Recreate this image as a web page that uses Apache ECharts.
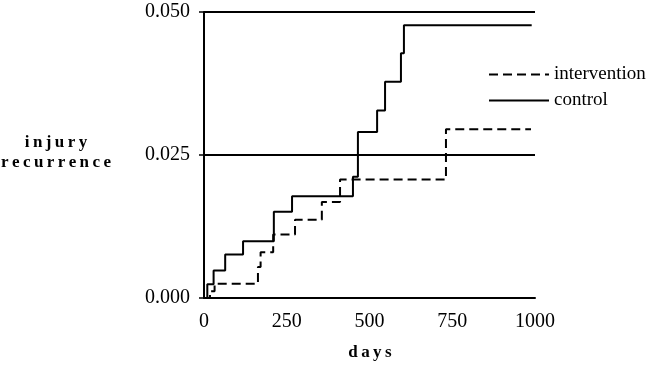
<!DOCTYPE html>
<html>
<head>
<meta charset="utf-8">
<script src="https://cdn.jsdelivr.net/npm/echarts@6/dist/echarts.min.js"></script>
<style>
  html, body { margin: 0; padding: 0; background: #fff; }
  #chart { width: 651px; height: 369px; }
</style>
</head>
<body>
<div id="chart"></div>
<script>
// step points: [day, cumulative recurrence] - value changes at that day
var controlSteps = [
  [0, 0], [10, 0.0024], [29, 0.0048], [64, 0.0076], [118, 0.0099],
  [211, 0.0151], [266, 0.0178], [450, 0.0212], [465, 0.0290],
  [523, 0.0328], [547, 0.0378], [595, 0.0428], [604, 0.0477], [990, 0.0477]
];
var interventionSteps = [
  [0, 0], [18, 0.0012], [32, 0.0025], [163, 0.0054], [171, 0.0080],
  [209, 0.0111], [275, 0.0137], [356, 0.0168], [411, 0.0207],
  [731, 0.0295], [988, 0.0295]
];
var xTicks = [0, 250, 500, 750, 1000];
var yTicks = [0, 0.025, 0.05];

var serif = '"Liberation Serif", "Times New Roman", serif';
var thin = '\u2009';

var myChart = echarts.init(document.getElementById('chart'));

var option = {
  animation: false,
  backgroundColor: '#fff',
  grid: {
    left: 204,
    right: 116,
    top: 12,
    bottom: 71
  },
  legend: {
    orient: 'vertical',
    left: 483,
    top: 60,
    itemWidth: 60,
    itemHeight: 14,
    itemGap: 7,
    itemStyle: { opacity: 0 },
    textStyle: {
      fontFamily: serif,
      fontSize: 19,
      color: '#000'
    },
    data: ['intervention', 'control']
  },
  graphic: [
    {
      type: 'text',
      x: 56,
      y: 153,
      style: {
        text: 'injury'.split('').join(thin) + '\n' + 'recurrence'.split('').join(thin),
        fontFamily: serif,
        fontWeight: 'bold',
        fontSize: 17,
        lineHeight: 20,
        align: 'center',
        verticalAlign: 'middle',
        fill: '#000'
      }
    },
    {
      type: 'text',
      x: 370,
      y: 353,
      style: {
        text: 'days'.split('').join(thin),
        fontFamily: serif,
        fontWeight: 'bold',
        fontSize: 17,
        align: 'center',
        verticalAlign: 'middle',
        fill: '#000'
      }
    }
  ],
  xAxis: {
    type: 'value',
    min: xTicks[0],
    max: xTicks[xTicks.length - 1],
    interval: 250,
    axisLine: { show: true, lineStyle: { color: '#000', width: 2 } },
    axisTick: { show: false },
    splitLine: { show: false },
    axisLabel: {
      margin: 14,
      fontFamily: serif,
      fontSize: 20,
      color: '#000',
      formatter: function (v) { return String(v); }
    }
  },
  yAxis: {
    type: 'value',
    min: yTicks[0],
    max: yTicks[yTicks.length - 1],
    interval: 0.025,
    axisLine: { show: true, lineStyle: { color: '#000', width: 2 } },
    axisTick: { show: true, length: 5, lineStyle: { color: '#000', width: 1.5 } },
    splitLine: { show: true, lineStyle: { color: '#000', width: 1.8 } },
    axisLabel: {
      margin: 14,
      fontFamily: serif,
      fontSize: 20,
      color: '#000',
      formatter: function (v) { return v.toFixed(3); }
    }
  },
  series: [
    {
      name: 'intervention',
      type: 'line',
      step: 'end',
      symbol: 'none',
      data: interventionSteps,
      lineStyle: { color: '#000', width: 2, type: [9, 5] },
      itemStyle: { color: '#000' }
    },
    {
      name: 'control',
      type: 'line',
      step: 'end',
      symbol: 'none',
      data: controlSteps,
      lineStyle: { color: '#000', width: 2 },
      itemStyle: { color: '#000' }
    }
  ]
};

myChart.setOption(option);
</script>
</body>
</html>
